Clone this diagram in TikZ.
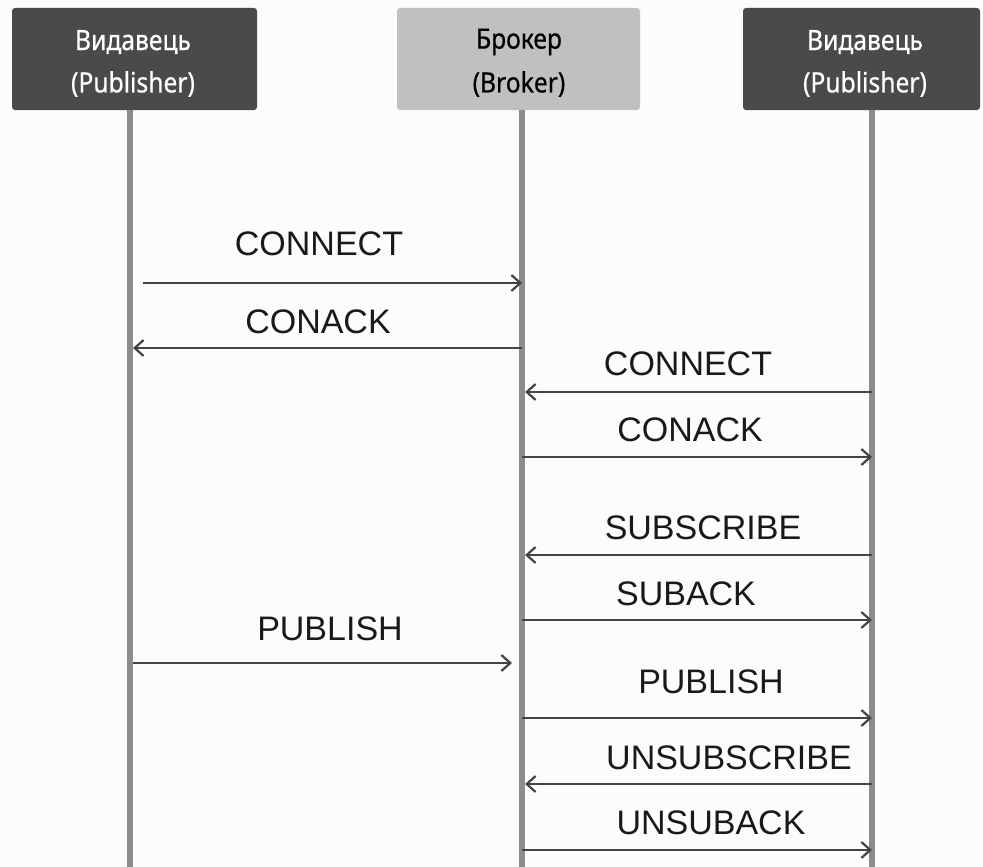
\documentclass[tikz,border=0pt]{standalone}
\usepackage{fontspec}
\setmainfont{Liberation Sans}
\newfontfamily\headfont[FakeStretch=0.88, FakeBold=0.6]{Noto Sans}
\usetikzlibrary{arrows.meta}
\definecolor{darkbox}{HTML}{4A4A4A}
\definecolor{lightbox}{HTML}{C0C0C0}
\definecolor{lifeline}{HTML}{8C8C8C}
\definecolor{msgline}{HTML}{444444}
\definecolor{bgcol}{HTML}{FCFCFC}
\tikzset{
  actor/.style={rounded corners=3pt, inner sep=0pt, align=center, font=\headfont\fontsize{28}{42}\selectfont},
  lifel/.style={line width=6pt, draw=lifeline},
  msg/.style={line width=2.6pt, draw=msgline, -{Straight Barb[length=9pt,width=16pt,line width=2.2pt]}},
  lbl/.style={font=\fontsize{34}{36}\selectfont, text=black!90, inner sep=0pt}
}
\begin{document}
\begin{tikzpicture}[x=1pt,y=-1pt]
\fill[bgcol] (0,0) rectangle (983,867);
\useasboundingbox (0,0) rectangle (983,867);
% actors
\node[actor, fill=darkbox, text=white, minimum width=245pt, minimum height=102pt] (p1) at (134.5,59) {};
\node[actor, fill=lightbox, text=black, minimum width=243pt, minimum height=102pt] (br) at (518.5,59) {};
\node[actor, fill=darkbox, text=white, minimum width=237pt, minimum height=102pt] (p2) at (861.5,59) {};
\node[actor, text=white] (p1t1) at (133,42) {Видавець};
\node[actor, text=white] (p1t2) at (133,84) {(Publisher)};
\node[actor, text=black] (brt1) at (519,42) {Брокер};
\node[actor, text=black] (brt2) at (519,84) {(Broker)};
\node[actor, text=white] (p2t1) at (865,42) {Видавець};
\node[actor, text=white] (p2t2) at (865,84) {(Publisher)};
% lifeline ends
\coordinate (p1b) at (130,867);
\coordinate (brb) at (522,867);
\coordinate (p2b) at (872,867);
\draw[lifel] (p1.south -| p1b) -- (p1b);
\draw[lifel] (br.south -| brb) -- (brb);
\draw[lifel] (p2.south -| p2b) -- (p2b);
% message coordinates
\coordinate (a1s) at (143,283); \coordinate (a1e) at (522,283);
\coordinate (a2s) at (522,348); \coordinate (a2e) at (133,348);
\coordinate (a3s) at (872,392); \coordinate (a3e) at (525,392);
\coordinate (a4s) at (522,457); \coordinate (a4e) at (872,457);
\coordinate (a5s) at (872,555); \coordinate (a5e) at (525,555);
\coordinate (a6s) at (522,620); \coordinate (a6e) at (872,620);
\coordinate (a7s) at (133,663); \coordinate (a7e) at (512,663);
\coordinate (a8s) at (522,718); \coordinate (a8e) at (872,718);
\coordinate (a9s) at (872,784); \coordinate (a9e) at (525,784);
\coordinate (a10s) at (522,850); \coordinate (a10e) at (872,850);
\draw[msg] (a1s) -- (a1e);
\draw[msg] (a2s) -- (a2e);
\draw[msg] (a3s) -- (a3e);
\draw[msg] (a4s) -- (a4e);
\draw[msg] (a5s) -- (a5e);
\draw[msg] (a6s) -- (a6e);
\draw[msg] (a7s) -- (a7e);
\draw[msg] (a8s) -- (a8e);
\draw[msg] (a9s) -- (a9e);
\draw[msg] (a10s) -- (a10e);
% labels
\node[lbl] (l1) at (319,244) {CONNECT};
\node[lbl] (l2) at (318,322) {CONACK};
\node[lbl] (l3) at (688,364) {CONNECT};
\node[lbl] (l4) at (690,430) {CONACK};
\node[lbl] (l5) at (703,528) {SUBSCRIBE};
\node[lbl] (l6) at (686,594) {SUBACK};
\node[lbl] (l7) at (330,629) {PUBLISH};
\node[lbl] (l8) at (711,682) {PUBLISH};
\node[lbl] (l9) at (729,758) {UNSUBSCRIBE};
\node[lbl] (l10) at (711,823) {UNSUBACK};
\end{tikzpicture}
\end{document}
